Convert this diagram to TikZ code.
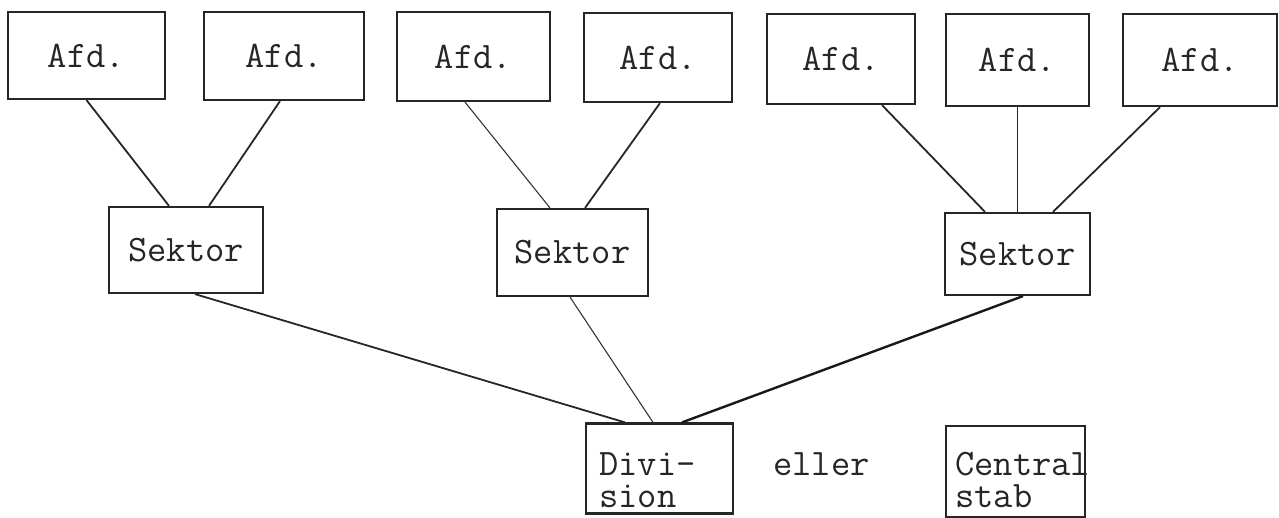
\documentclass[tikz,border=0pt]{standalone}
\usetikzlibrary{calc}
\begin{document}
\begin{tikzpicture}[x=0.5pt,y=-0.5pt,
  box/.style={draw=black!85,line width=1.1pt,inner sep=0pt,
    font=\fontsize{18.7}{21}\ttfamily,text=black!85},
  txt/.style={inner sep=0pt,font=\fontsize{18.7}{16}\ttfamily,text=black!85},
  link/.style={draw=black!85,line width=0.9pt},
  thin/.style={draw=black!80,line width=0.55pt},
  heavy/.style={draw=black!90,line width=1.2pt}]
\useasboundingbox (0,0) rectangle (1279,518);

% departments
\node[box,minimum width=78.5pt,minimum height=43.5pt] (a1) at (86.5,55.5) {Afd.};
\node[box,minimum width=80pt,minimum height=44pt] (a2) at (284,56) {Afd.};
\node[box,minimum width=76.5pt,minimum height=44.5pt] (a3) at (473.5,56.5) {Afd.};
\node[box,minimum width=74pt,minimum height=44.5pt] (a4) at (658,57.5) {Afd.};
\node[box,minimum width=74pt,minimum height=45pt] (a5) at (841,59) {Afd.};
\node[box,minimum width=71.5pt,minimum height=46pt] (a6) at (1017.5,60) {Afd.};
\node[box,minimum width=77pt,minimum height=46pt] (a7) at (1200,60) {Afd.};

% sectors
\node[box,minimum width=77pt,minimum height=43pt] (s1) at (186,250) {Sektor};
\node[box,minimum width=75.5pt,minimum height=43.5pt] (s2) at (572.5,252.5) {Sektor};
\node[box,minimum width=72.5pt,minimum height=41pt] (s3) at (1017.5,254) {Sektor};

% division / central staff, labels set inside the frames
\node[box,minimum width=73.5pt,minimum height=45pt] (div) at (659.5,468.5) {};
\node[txt,align=left,anchor=north west] (divtxt) at (599,452) {Divi-\\sion};
\node[txt,anchor=base west] (or) at (773,475) {eller};
\node[box,minimum width=69.5pt,minimum height=45.5pt] (cs) at (1015.5,471.5) {};
\node[txt,align=left,anchor=north west] (cstxt) at (955,452) {Central\\stab};

% departments to sectors
\draw[link] (a1.south) -- ($(s1.north)+(-17,0)$);
\draw[link] ($(a2.south)+(-4,0)$) -- ($(s1.north)+(23,0)$);
\draw[thin] ($(a3.south)+(-8.5,0)$) -- ($(s2.north)+(-22.5,0)$);
\draw[link] ($(a4.south)+(2,0)$) -- ($(s2.north)+(12.5,0)$);
\draw[link] ($(a5.south)+(41,0)$) -- ($(s3.north)+(-32.5,0)$);
\draw[link] (a6.south) -- (s3.north);
\draw[link] ($(a7.south)+(-40,0)$) -- ($(s3.north)+(35.5,0)$);

% sectors to division
\draw[link] ($(s1.south)+(9,0)$) -- ($(div.north)+(-34.5,0)$);
\draw[thin] ($(s2.south)+(-2.5,0)$) -- ($(div.north)+(-6.5,0)$);
\draw[heavy] ($(s3.south)+(5.5,0)$) -- ($(div.north)+(22.5,0)$);
\end{tikzpicture}
\end{document}
